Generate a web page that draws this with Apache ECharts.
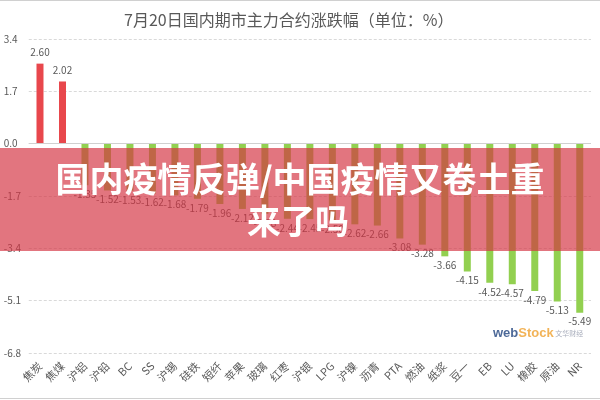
<!DOCTYPE html>
<html>
<head>
<meta charset="utf-8">
<script src="https://cdn.jsdelivr.net/npm/echarts@6/dist/echarts.min.js"></script>
<style>
html,body{margin:0;padding:0;background:#fff;}
#c{width:600px;height:400px;}
</style>
</head>
<body>
<div id="c"></div>
<script>
var categories = ['焦炭','焦煤','沪铝','沪铅','BC','SS','沪锡','硅铁','短纤','苹果','玻璃','红枣','沪银','LPG','沪镍','沥青','PTA','燃油','纸浆','豆一','EB','LU','橡胶','原油','NR'];
var values = [2.60, 2.02, -1.35, -1.52, -1.53, -1.62, -1.68, -1.79, -1.96, -2.12, -2.28, -2.44, -2.45, -2.50, -2.62, -2.66, -3.08, -3.28, -3.66, -4.15, -4.52, -4.57, -4.79, -5.13, -5.49];
var titleText = '7月20日国内期市主力合约涨跌幅（单位：%）';
var bannerLine1 = '国内疫情反弹/中国疫情又卷土重';
var bannerLine2 = '来了吗';

var FONT = '"Noto Sans CJK SC", "Microsoft YaHei", sans-serif';
var UP = '#E8474C', DOWN = '#92D050', TXT = '#595959';

var chart = echarts.init(document.getElementById('c'), null, {renderer: 'canvas'});
var data = values.map(function (v) {
  return {
    value: v,
    itemStyle: {color: v >= 0 ? UP : DOWN},
    label: {position: v >= 0 ? 'top' : 'bottom', distance: v >= 0 ? 6 : 4}
  };
});

chart.setOption({
  animation: false,
  backgroundColor: '#fff',
  textStyle: {fontFamily: FONT},
  title: {
    text: titleText,
    left: 119, top: 7,
    textStyle: {fontFamily: FONT, fontSize: 16, fontWeight: 'normal', color: TXT}
  },
  grid: {left: 28.75, right: 9, top: 39, bottom: 47, containLabel: false},
  xAxis: {
    type: 'category',
    data: categories,
    axisLine: {show: false, onZero: false},
    axisTick: {show: false},
    axisLabel: {interval: 0, rotate: 45, fontSize: 11, color: TXT, fontFamily: FONT, margin: 11}
  },
  yAxis: {
    type: 'value',
    min: -6.8, max: 3.4, interval: 1.7,
    axisLine: {show: false},
    axisTick: {show: false},
    axisLabel: {
      fontSize: 10, color: TXT, fontFamily: FONT, align: 'left', margin: 25,
      formatter: function (v) { return (Math.round(v * 10) / 10).toFixed(1); }
    },
    splitLine: {lineStyle: {color: '#d9d9d9', type: [3, 2], width: 1}}
  },
  series: [{
    type: 'bar',
    data: data,
    barWidth: 7,
    label: {
      show: true, fontSize: 10, color: TXT, fontFamily: FONT,
      formatter: function (p) { return p.value.toFixed(2); }
    },
    markLine: {
      silent: true, symbol: 'none', label: {show: false},
      lineStyle: {color: '#d0d0d0', type: 'solid', width: 1},
      data: [{yAxis: 0}]
    }
  }],
  graphic: [
    {type: 'line', z: 50, shape: {x1: 0, y1: 0.5, x2: 600, y2: 0.5}, style: {stroke: '#d0d0d0', lineWidth: 1}},
    {type: 'line', z: 50, shape: {x1: 0, y1: 398.5, x2: 600, y2: 398.5}, style: {stroke: '#d0d0d0', lineWidth: 1}},
    {
      type: 'text', z: 50, left: 493, top: 327,
      style: {
        opacity: 0.85,
        text: '{a|web}{b|Stock}{c| 文华财经}',
        rich: {
          a: {fontSize: 13, fontWeight: 'bold', fill: '#2e4f86', fontFamily: 'Arial, sans-serif'},
          b: {fontSize: 13, fontWeight: 'bold', fill: '#f0a63a', fontFamily: 'Arial, sans-serif'},
          c: {fontSize: 7, fill: '#9aa0b0', fontFamily: FONT}
        }
      }
    },
    {
      type: 'rect', z: 100,
      shape: {x: 0, y: 148, width: 600, height: 103},
      style: {fill: 'rgba(212,52,66,0.68)'}
    },
    {
      type: 'text', z: 101, x: 300, y: 179,
      style: {text: bannerLine1, fill: '#fff', font: 'bold 34px ' + FONT, textAlign: 'center', textVerticalAlign: 'middle'}
    },
    {
      type: 'text', z: 101, x: 298, y: 221,
      style: {text: bannerLine2, fill: '#fff', font: 'bold 34px ' + FONT, textAlign: 'center', textVerticalAlign: 'middle'}
    }
  ]
});
</script>
</body>
</html>
